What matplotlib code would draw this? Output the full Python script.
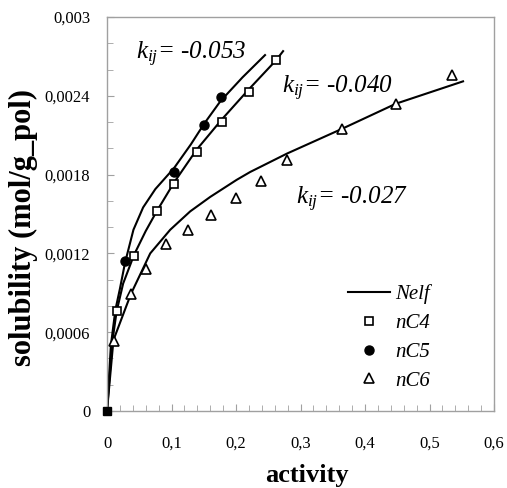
import matplotlib
matplotlib.use("Agg")
import matplotlib.pyplot as plt
from matplotlib.ticker import MultipleLocator, FuncFormatter

plt.rcParams['font.family'] = ['Liberation Serif', 'DejaVu Serif']
plt.rcParams['mathtext.fontset'] = 'custom'
plt.rcParams['mathtext.it'] = 'Liberation Serif:italic'
plt.rcParams['mathtext.rm'] = 'Liberation Serif:italic'

# experimental data
nc4_a = [0.015, 0.042, 0.077, 0.104, 0.139, 0.178, 0.220, 0.262]
nc4_s = [0.00076, 0.00118, 0.00152, 0.00173, 0.00197, 0.00220, 0.00243, 0.00267]
nc5_a = [0.028, 0.104, 0.151, 0.176]
nc5_s = [0.00114, 0.00182, 0.00218, 0.00239]
nc6_a = [0.011, 0.037, 0.061, 0.091, 0.125, 0.161, 0.200, 0.239, 0.279, 0.365, 0.448, 0.535]
nc6_s = [0.00053, 0.00089, 0.00108, 0.00127, 0.00138, 0.00149, 0.00162, 0.00175, 0.00191, 0.00215, 0.00234, 0.00256]
origin_a = [0.0]
origin_s = [0.0]

# Nelf model curves
nelf5_a = [0.0, 0.006, 0.013, 0.020, 0.028, 0.041, 0.056, 0.075, 0.104, 0.130, 0.151, 0.176, 0.210, 0.245]
nelf5_s = [0.0, 0.00050, 0.00077, 0.00093, 0.00113, 0.00138, 0.00155, 0.00169, 0.00185, 0.00203, 0.00219, 0.00236, 0.00254, 0.00271]
nelf4_a = [0.0, 0.008, 0.015, 0.025, 0.042, 0.060, 0.077, 0.104, 0.139, 0.178, 0.220, 0.262, 0.273]
nelf4_s = [0.0, 0.00052, 0.00076, 0.00097, 0.00119, 0.00137, 0.00152, 0.00174, 0.00199, 0.00222, 0.00245, 0.00267, 0.00274]
nelf6_a = [0.0, 0.010, 0.037, 0.067, 0.098, 0.129, 0.160, 0.201, 0.222, 0.279, 0.365, 0.448, 0.552]
nelf6_s = [0.0, 0.00054, 0.00089, 0.00120, 0.00138, 0.00152, 0.00163, 0.00176, 0.00182, 0.00196, 0.00215, 0.00234, 0.00251]

kij_labels = ["-0.053", "-0.040", "-0.027"]

fig = plt.figure(figsize=(5.07, 4.88), dpi=100)
ax = fig.add_axes([107/507, 1-411/488, (494-107)/507, (411-17)/488])

lc = 'black'
ax.plot(nelf5_a, nelf5_s, color=lc, lw=1.5, label='Nelf')
ax.plot(nelf4_a, nelf4_s, color=lc, lw=1.5)
ax.plot(nelf6_a, nelf6_s, color=lc, lw=1.5)
ax.plot(nc4_a, nc4_s, ls='none', marker='s', ms=6, mfc='white', mec='black', mew=1.2, label='nC4')
ax.plot(nc5_a, nc5_s, ls='none', marker='o', ms=6.5, mfc='black', mec='black', label='nC5')
ax.plot(nc6_a, nc6_s, ls='none', marker='^', ms=7, mfc='white', mec='black', mew=1.2, label='nC6')
ax.plot(origin_a, origin_s, ls='none', marker='s', ms=6, mfc='black', mec='black', clip_on=False, zorder=5)

ax.set_xlim(0, 0.6)
ax.set_ylim(0, 0.003)
ax.xaxis.set_major_locator(MultipleLocator(0.1))
ax.xaxis.set_minor_locator(MultipleLocator(0.02))
ax.yaxis.set_major_locator(MultipleLocator(0.0006))
ax.yaxis.set_minor_locator(MultipleLocator(0.0002))

def fmt(v, pos):
    if abs(v) < 1e-12:
        return '0'
    s = ('%.4f' % v).rstrip('0').rstrip('.')
    return s.replace('.', ',')
ax.xaxis.set_major_formatter(FuncFormatter(fmt))
ax.yaxis.set_major_formatter(FuncFormatter(fmt))

for sp in ax.spines.values():
    sp.set_color('#a0a0a0')
    sp.set_linewidth(1.0)
ax.tick_params(which='both', direction='in', color='#a0a0a0', labelsize=12)
ax.tick_params(which='major', length=5)
ax.tick_params(which='minor', length=4)
ax.tick_params(axis='x', which='major', pad=18)
ax.tick_params(axis='y', which='major', pad=12)

ax.set_xlabel('activity', fontsize=19, fontweight='bold')
ax.set_ylabel('solubility (mol/g_pol)', fontsize=22, fontweight='bold')
ax.xaxis.set_label_coords((307-107)/387, (411-464)/394)
ax.yaxis.set_label_coords((38-107)/387, (411-228)/394)

tp = dict(fontsize=18, style='italic', ha='left', va='baseline')
ax.text(0.045, 0.00268, r'$k_{ij}$= ' + kij_labels[0], **tp)
ax.text(0.272, 0.00242, r'$k_{ij}$= ' + kij_labels[1], **tp)
ax.text(0.293, 0.00157, r'$k_{ij}$= ' + kij_labels[2], **tp)

leg = ax.legend(loc='upper left', bbox_to_anchor=(0.575, 0.37), frameon=False,
                prop={'family': 'Liberation Serif', 'style': 'italic', 'size': 15},
                handlelength=2.0, handletextpad=0.25, labelspacing=0.45)

fig.savefig('out.png', dpi=100)
